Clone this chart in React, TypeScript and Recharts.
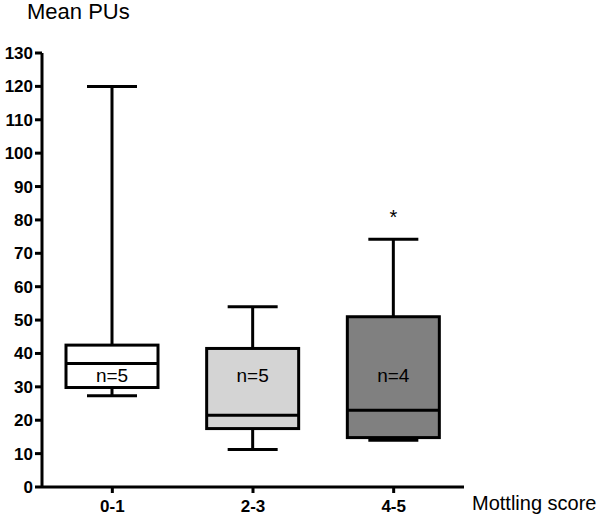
import { ComposedChart, Bar, XAxis, YAxis } from 'recharts';

const categories = ['0-1', '2-3', '4-5'];
const minValues = [27.3, 11.2, 14.0];
const q1Values = [29.8, 17.5, 14.8];
const medianValues = [37.0, 21.5, 23.0];
const q3Values = [42.5, 41.5, 51.0];
const maxValues = [120, 54.0, 74.2];
const nLabels = ['n=5', 'n=5', 'n=4'];
const marks = ['', '', '*'];
const fills = ['#ffffff', '#d4d4d4', '#808080'];
const yTicks = [0, 10, 20, 30, 40, 50, 60, 70, 80, 90, 100, 110, 120, 130];
const nLabelValue = 33.5;

const data = categories.map((name, i) => ({
    name,
    box: [q1Values[i], q3Values[i]],
    min: minValues[i],
    q1: q1Values[i],
    median: medianValues[i],
    q3: q3Values[i],
    max: maxValues[i],
    n: nLabels[i],
    mark: marks[i],
    fill: fills[i],
}));

const font = '"Liberation Sans", Arial, sans-serif';

function BoxShape(props: any) {
    const { x, y, width, height, payload } = props;
    const p = payload;
    // pixel position of a value, taken from the bar's own scaled q1..q3 span
    const toY = (v: number) => y + ((p.q3 - v) / (p.q3 - p.q1)) * height;
    const cx = x + width / 2;
    const cap = 25;
    return (
        <g>
            <line x1={cx} x2={cx} y1={toY(p.max)} y2={y} stroke="#000" strokeWidth={3} />
            <line x1={cx} x2={cx} y1={toY(p.min)} y2={y + height} stroke="#000" strokeWidth={3} />
            <line x1={cx - cap} x2={cx + cap} y1={toY(p.max)} y2={toY(p.max)} stroke="#000" strokeWidth={3} />
            <line x1={cx - cap} x2={cx + cap} y1={toY(p.min)} y2={toY(p.min)} stroke="#000" strokeWidth={3} />
            <rect x={x} y={y} width={width} height={height} fill={p.fill} stroke="#000" strokeWidth={3} />
            <line x1={x} x2={x + width} y1={toY(p.median)} y2={toY(p.median)} stroke="#000" strokeWidth={3} />
            <text x={cx} y={toY(nLabelValue)} textAnchor="middle" dominantBaseline="central"
                fontFamily={font} fontSize={19} fill="#000">{p.n}</text>
            {p.mark && (
                <text x={cx} y={toY(p.max) - 15} textAnchor="middle" fontFamily={font} fontSize={20} fill="#000">
                    {p.mark}
                </text>
            )}
        </g>
    );
}

export default function App() {
    const tickStyle = { fontFamily: font, fontWeight: 'bold', fontSize: 17, fill: '#000' };
    return (
        <div style={{ position: 'absolute', left: 0, top: 0, width: 600, height: 516, background: '#fff' }}>
            <ComposedChart width={600} height={516} data={data}
                margin={{ top: 53, right: 136, bottom: 0, left: 0 }}>
                <XAxis dataKey="name" height={29} tick={tickStyle}
                    axisLine={{ stroke: '#000', strokeWidth: 3 }}
                    tickLine={{ stroke: '#000', strokeWidth: 3 }}
                    tickSize={6} tickMargin={7} />
                <YAxis width={42} domain={[0, 130]} ticks={yTicks} interval={0} tick={tickStyle}
                    axisLine={{ stroke: '#000', strokeWidth: 3 }}
                    tickLine={{ stroke: '#000', strokeWidth: 3 }}
                    tickSize={7} tickMargin={2} />
                <Bar dataKey="box" barSize={92} shape={BoxShape} isAnimationActive={false} />
            </ComposedChart>
            <svg width={600} height={516} style={{ position: 'absolute', left: 0, top: 0, pointerEvents: 'none' }}>
                <text x={27} y={18.5} fontFamily={font} fontSize={22} fill="#000">Mean PUs</text>
                <text x={472} y={510} fontFamily={font} fontSize={20} fill="#000">Mottling score</text>
            </svg>
        </div>
    );
}
